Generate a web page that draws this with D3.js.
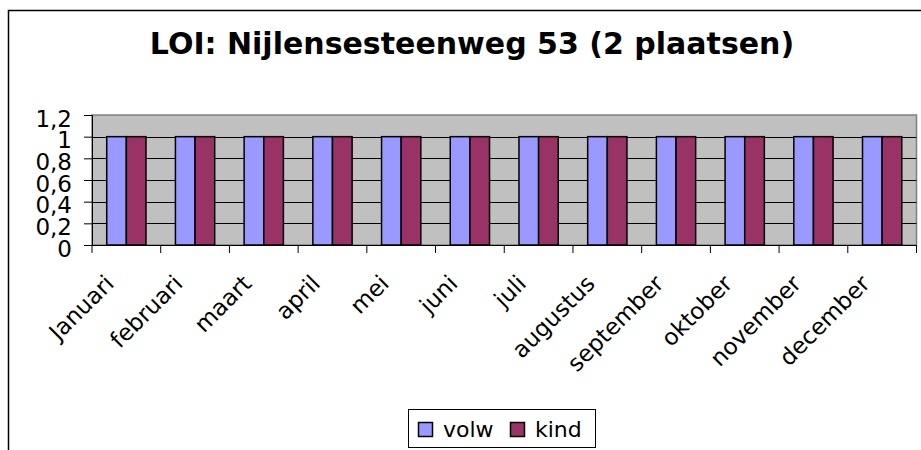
<!DOCTYPE html>
<html lang="nl">
<head>
  <meta charset="UTF-8">
  <title>LOI: Nijlensesteenweg 53 (2 plaatsen)</title>
  <style>
    body { margin: 0; background: #fff; }
    svg { display: block; }
    svg text { font-family: "DejaVu Sans", Verdana, sans-serif; }
  </style>
</head>
<body>
  <script src="https://d3js.org/d3.v7.min.js"></script>
  <script>
    // gegevens
    const maanden = ['Januari', 'februari', 'maart', 'april', 'mei', 'juni', 'juli',
      'augustus', 'september', 'oktober', 'november', 'december'];
    const volw = [1, 1, 1, 1, 1, 1, 1, 1, 1, 1, 1, 1];
    const kind = [1, 1, 1, 1, 1, 1, 1, 1, 1, 1, 1, 1];
    const reeksen = ['volw', 'kind'];
    const kleuren = ['#9999FF', '#993366'];
    const yTicks = [0, 0.2, 0.4, 0.6, 0.8, 1, 1.2];

    const svgWidth = 921, svgHeight = 450;
    const plot = { left: 92, top: 115, right: 916.5, bottom: 245 };

    const svg = d3.select('body').append('svg')
      .attr('width', svgWidth)
      .attr('height', svgHeight);

    // kader van de grafiek
    svg.append('rect')
      .attr('x', 8.5).attr('y', 10.5)
      .attr('width', 930).attr('height', 460)
      .attr('fill', 'none').attr('stroke', '#000').attr('stroke-width', 1.5);

    // titel
    svg.append('text')
      .attr('x', 472).attr('y', 54)
      .attr('text-anchor', 'middle')
      .style('font-size', '30px').style('font-weight', 'bold')
      .text('LOI: Nijlensesteenweg 53 (2 plaatsen)');

    const x = d3.scaleBand().domain(maanden).range([plot.left, plot.right]);
    // gap width 150% zoals in Excel
    const barW = x.bandwidth() / 3.5;
    const xSub = d3.scaleBand().domain(reeksen)
      .range([0.75 * barW, 0.75 * barW + 2 * barW]);

    const y = d3.scaleLinear().domain([0, 1.2]).range([plot.bottom, plot.top]);

    // plotgebied
    svg.append('rect')
      .attr('x', plot.left).attr('y', plot.top)
      .attr('width', plot.right - plot.left).attr('height', plot.bottom - plot.top)
      .attr('fill', '#C0C0C0').attr('stroke', '#808080').attr('stroke-width', 1.5);

    // rasterlijnen
    svg.append('g').selectAll('line')
      .data(yTicks.filter(d => d > 0 && d < 1.2))
      .join('line')
      .attr('x1', plot.left).attr('x2', plot.right)
      .attr('y1', d => Math.round(y(d)) + 0.5).attr('y2', d => Math.round(y(d)) + 0.5)
      .attr('stroke', '#000');

    // staven
    const data = maanden.map((m, i) => ({ maand: m, waarden: [volw[i], kind[i]] }));
    const groep = svg.append('g').selectAll('g')
      .data(data).join('g')
      .attr('transform', d => `translate(${x(d.maand)},0)`);

    groep.selectAll('rect')
      .data(d => d.waarden.map((v, j) => ({ reeks: reeksen[j], v: v, kleur: kleuren[j] })))
      .join('rect')
      .attr('x', d => xSub(d.reeks))
      .attr('y', d => y(d.v))
      .attr('width', xSub.bandwidth())
      .attr('height', d => y(0) - y(d.v))
      .attr('fill', d => d.kleur)
      .attr('stroke', '#000').attr('stroke-width', 1.5);

    // y-as
    const yAxis = svg.append('g')
      .attr('transform', `translate(${plot.left},0)`)
      .call(d3.axisLeft(y).tickValues(yTicks).tickSize(8).tickPadding(12)
        .tickFormat(d => d3.format('~g')(d).replace('.', ',')));
    yAxis.attr('font-family', null).attr('font-size', null);
    yAxis.select('.domain').attr('stroke', '#000');
    yAxis.selectAll('text').style('font-size', '23px').attr('fill', '#000')
      .attr('dy', '0.48em');

    // x-as
    const xAxis = svg.append('g')
      .attr('transform', `translate(0,${plot.bottom})`)
      .call(d3.axisBottom(x).tickSize(0).tickFormat(''));
    xAxis.attr('font-family', null).attr('font-size', null);
    xAxis.select('.domain').attr('stroke', '#000');
    xAxis.selectAll('.tick').remove();

    const grenzen = maanden.map(m => x(m)).concat([plot.right]);
    xAxis.selectAll('line.grens')
      .data(grenzen).join('line')
      .attr('class', 'grens')
      .attr('x1', d => d).attr('x2', d => d)
      .attr('y1', 0).attr('y2', 8)
      .attr('stroke', '#000');

    xAxis.selectAll('text.label')
      .data(maanden).join('text')
      .attr('class', 'label')
      .attr('text-anchor', 'end')
      .attr('transform', d => `translate(${x(d) + x.bandwidth() / 2 - 11},${40}) rotate(-45)`)
      .style('font-size', '23px')
      .attr('fill', '#000')
      .text(d => d);

    // legenda
    const legenda = svg.append('g').attr('transform', 'translate(408,409)');
    legenda.append('rect')
      .attr('x', 0.5).attr('y', 0.5).attr('width', 187).attr('height', 38)
      .attr('fill', '#fff').attr('stroke', '#000');
    const items = legenda.selectAll('g.item')
      .data(reeksen).join('g')
      .attr('class', 'item')
      .attr('transform', (d, i) => `translate(${10 + i * 92},0)`);
    items.append('rect')
      .attr('x', 0.5).attr('y', 13.5).attr('width', 14).attr('height', 14)
      .attr('fill', (d, i) => kleuren[i]).attr('stroke', '#000').attr('stroke-width', 1.5);
    items.append('text')
      .attr('x', 25).attr('y', 28)
      .style('font-size', '22px')
      .text(d => d);
  </script>
</body>
</html>
